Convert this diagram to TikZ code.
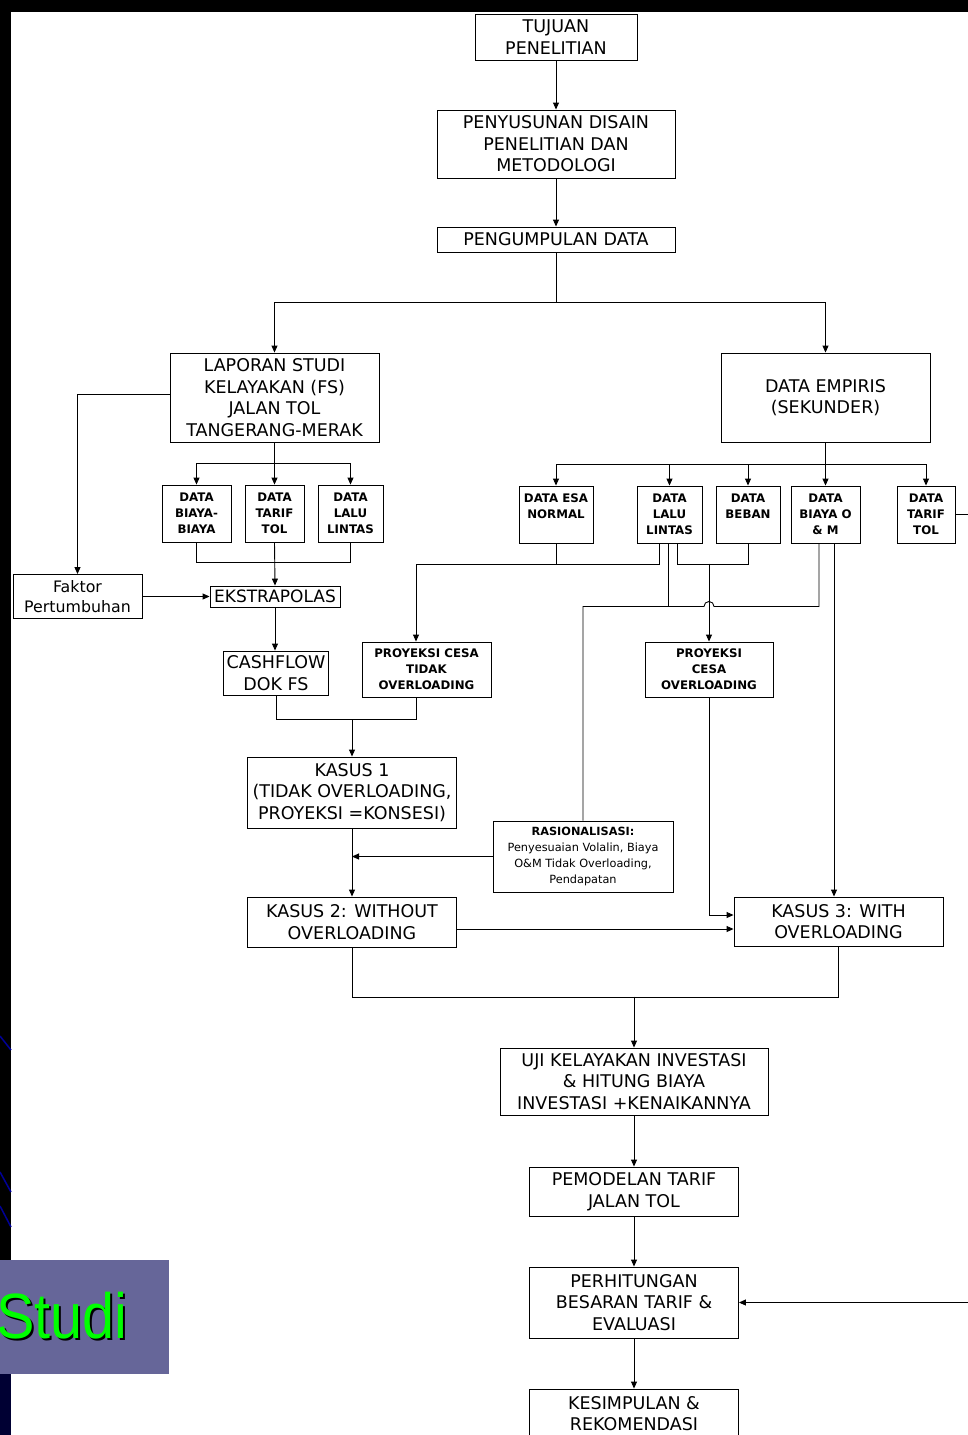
\documentclass[tikz,border=0pt]{standalone}
\usepackage{fontspec}
\setmainfont{DejaVu Sans}
\newfontfamily\studifont{Liberation Sans}
\usetikzlibrary{arrows.meta}
\definecolor{studibg}{RGB}{102,102,153}
\definecolor{studigreen}{RGB}{0,255,0}
\definecolor{stripnavy}{RGB}{0,0,51}
\definecolor{stripblue}{RGB}{0,0,150}

\begin{document}
\begin{tikzpicture}[x=1pt, y=-1pt, line width=0.9pt, >={Triangle[length=7pt,width=6pt]},
    box/.style={draw, inner sep=0pt, align=center, font=\fontsize{17.5}{21.5}\selectfont},
    sbox/.style={box, font=\bfseries\fontsize{11.8}{16}\selectfont}]
        \useasboundingbox (0,0) rectangle (968,1435);
        \clip (0,0) rectangle (968,1435);
        \fill[white] (0,0) rectangle (968,1435);
        \fill[black] (0,0) rectangle (968,12);
        \fill[black] (0,0) rectangle (11,1435);
        \fill[stripnavy] (0,1374) rectangle (11,1435);
        \draw[stripblue, line width=1.5pt] (0,1036) -- (11,1050);
        \draw[stripblue, line width=1.5pt] (0,1172) -- (11,1192);
        \draw[stripblue, line width=1.5pt] (0,1206) -- (11,1227);
        \fill[studibg] (0,1260) rectangle (169,1374);
        \node[anchor=base west, inner sep=0pt, text=black, xscale=0.9, font=\studifont\fontsize{64}{64}\selectfont] (S0) at (-2,1340) {Studi};
        \node[anchor=base west, inner sep=0pt, text=studigreen, xscale=0.9, font=\studifont\fontsize{64}{64}\selectfont] (S) at (-4,1338) {Studi};

        \node[box, minimum width=162, minimum height=46] (TP) at (556,37) {TUJUAN\\PENELITIAN};
        \node[box, minimum width=238, minimum height=68] (PDP) at (556,144) {PENYUSUNAN DISAIN\\PENELITIAN DAN\\METODOLOGI};
        \node[box, minimum width=238, minimum height=25] (PD) at (556,239.5) {PENGUMPULAN DATA};
        \node[box, minimum width=209, minimum height=89] (FS) at (274.5,397.5) {LAPORAN STUDI\\KELAYAKAN (FS)\\JALAN TOL\\TANGERANG-MERAK};
        \node[box, minimum width=209, minimum height=89] (DE) at (825.5,397.5) {DATA EMPIRIS\\(SEKUNDER)};
        \node[sbox, minimum width=69, minimum height=57] (B1) at (196.5,513.5) {DATA\\BIAYA-\\BIAYA};
        \node[sbox, minimum width=59, minimum height=57] (B2) at (274.5,513.5) {DATA\\TARIF\\TOL};
        \node[sbox, minimum width=65, minimum height=57] (B3) at (350.5,513.5) {DATA\\LALU\\LINTAS};
        \node[sbox, minimum width=74, minimum height=57] (E1) at (556,514.5) {DATA ESA\\NORMAL\\\mbox{}};
        \node[sbox, minimum width=65, minimum height=57] (E2) at (669.5,514.5) {DATA\\LALU\\LINTAS};
        \node[sbox, minimum width=64, minimum height=57] (E3) at (748,514.5) {DATA\\BEBAN\\\mbox{}};
        \node[sbox, minimum width=69, minimum height=57] (E4) at (825.5,514.5) {DATA\\BIAYA O\\\& M};
        \node[sbox, minimum width=58, minimum height=57] (E5) at (926,514.5) {DATA\\TARIF\\TOL};
        \node[box, font=\fontsize{15.8}{20}\selectfont, minimum width=129, minimum height=44] (FP) at (77.5,596.5) {Faktor\\Pertumbuhan};
        \node[box, font=\fontsize{17}{20}\selectfont, minimum width=130, minimum height=21] (EX) at (275,596.5) {EKSTRAPOLAS};
        \node[box, minimum width=105, minimum height=44] (CF) at (276,673) {CASHFLOW\\DOK FS};
        \node[sbox, minimum width=129, minimum height=55] (PT) at (426.5,669.5) {PROYEKSI CESA\\TIDAK\\OVERLOADING};
        \node[sbox, minimum width=128, minimum height=55] (PO) at (709,669.5) {PROYEKSI\\CESA\\OVERLOADING};
        \node[box, minimum width=209, minimum height=71] (K1) at (352,792.5) {KASUS 1\\(TIDAK OVERLOADING,\\PROYEKSI =KONSESI)};
        \node[box, font=\fontsize{11.3}{16}\selectfont, minimum width=180, minimum height=71] (RA) at (583,856.5) {\textbf{RASIONALISASI:}\\Penyesuaian Volalin, Biaya\\O\&M Tidak Overloading,\\Pendapatan};
        \node[box, minimum width=209, minimum height=50] (K2) at (352,922) {KASUS 2: WITHOUT\\OVERLOADING};
        \node[box, minimum width=209, minimum height=49] (K3) at (838.5,921.5) {KASUS 3: WITH\\OVERLOADING};
        \node[box, minimum width=268, minimum height=67] (UJ) at (634,1081.5) {UJI KELAYAKAN INVESTASI\\\& HITUNG BIAYA\\INVESTASI +KENAIKANNYA};
        \node[box, minimum width=209, minimum height=49] (PM) at (634,1191.5) {PEMODELAN TARIF\\JALAN TOL};
        \node[box, minimum width=209, minimum height=71] (PH) at (634,1302.5) {PERHITUNGAN\\BESARAN TARIF \&\\EVALUASI};
        \node[box, minimum width=209, minimum height=49] (KR) at (634,1413.5) {KESIMPULAN \&\\REKOMENDASI};

        \coordinate (M1) at (352,719);
        \coordinate (R1) at (990,513);
        \coordinate (R2) at (990,1302.5);

        \draw[->] (TP) -- (PDP);
        \draw[->] (PDP) -- (PD);
        \draw[->] (PD.south) -- ++(0,50) -| (FS.north);
        \draw[->] (PD.south) -- ++(0,50) -| (DE.north);
        \draw[->] ([yshift=3.5pt]FS.west) -| (FP.north);
        \draw[->] (FS.south) -- ++(0,21) -| (B1.north);
        \draw[->] (FS.south) -- ++(0,21) -| (B3.north);
        \draw[->] (FS.south) -- (B2.north);
        \draw (B1.south) -- ++(0,20) -| (B3.south);
        \draw[->] (B2.south) -- (EX.north);
        \draw[->] (FP.east) -- (EX.west);
        \draw[->] (EX.south) -- (EX.south |- CF.north);
        \draw (CF.south) -- ++(0,24) -| ([xshift=-10pt]PT.south);
        \draw[->] (M1) -- (K1.north);
        \draw[->] (DE.south) -- ++(0,22) -| (E1.north);
        \draw[->] (DE.south) -- ++(0,22) -| (E2.north);
        \draw[->] (DE.south) -- ++(0,22) -| (E3.north);
        \draw[->] (DE.south) -- ++(0,22) -| (E5.north);
        \draw[->] (DE.south) -- (E4.north);
        \draw (E1.south) -- ++(0,21);
        \draw[->] ([xshift=-10.5pt]E2.south) -- ++(0,21) -| ([xshift=-10.5pt]PT.north);
        \draw ([xshift=7.5pt]E2.south) -- ++(0,21) -| (E3.south);
        \draw[->] (PO.north) ++(0,-78) -- (PO.north);
        \draw ([xshift=-1.5pt]E2.south) -- ++(0,63);
        \draw ([xshift=-6.5pt]E4.south) -- ++(0,63) -- ++(-105,0) arc[start angle=0, end angle=-180, radius=5] -| (RA.north);
        \draw[->] ([xshift=8.5pt]E4.south) -- ([xshift=8.5pt]E4.south |- K3.north);
        \draw[->] (PO.south) |- ([yshift=6.5pt]K3.west);
        \draw[->] (K1) -- (K2);
        \draw[->] (RA.west) -- (RA.west -| K1.south);
        \draw[->] ([yshift=-7pt]K2.east) -- ([yshift=-7pt]K2.east -| K3.west);
        \draw (K2.south) -- ++(0,50) -| (K3.south);
        \draw[->] (UJ.north) ++(0,-51) -- (UJ.north);
        \draw[->] (UJ) -- (PM);
        \draw[->] (PM) -- (PH);
        \draw[->] (PH) -- (KR);
        \draw (E5.east) -- (E5.east -| R1);
        \draw[->] (R2) -- (PH.east);
    \end{tikzpicture}
\end{document}
